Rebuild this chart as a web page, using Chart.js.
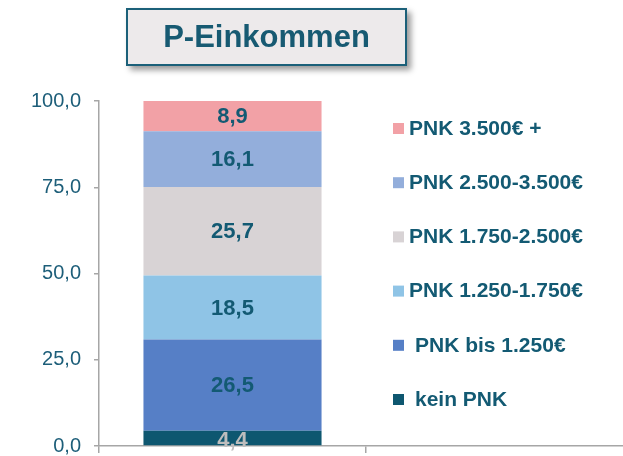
<!DOCTYPE html>
<html lang="de">
<head>
<meta charset="utf-8">
<title>P-Einkommen</title>
<script src="https://cdn.jsdelivr.net/npm/chart.js@4/dist/chart.umd.min.js"></script>
<style>
  html, body { margin: 0; padding: 0; background: #fff; overflow: hidden; }
  .wrap { position: relative; width: 623px; height: 456px; overflow: hidden; }
  #pChart { position: absolute; left: 0; top: 0; }
  .title-box {
    position: absolute; left: 126px; top: 8px; width: 277px; height: 54px;
    background: #EDEAEB; border: 2px solid #1B6079;
    box-shadow: 4px 4px 6px rgba(0, 0, 0, 0.4);
    font: bold 31px "Liberation Sans", Arial, sans-serif; color: #175A72;
    display: flex; align-items: center; justify-content: center;
  }
</style>
</head>
<body>
<div class="wrap">
  <canvas id="pChart" width="633" height="471"></canvas>
  <div class="title-box">P-Einkommen</div>
</div>
<script>
// Data (bottom to top of the stack)
const categories = ['', ''];
const seriesNames = ['kein PNK', 'PNK bis 1.250€', 'PNK 1.250-1.750€', 'PNK 1.750-2.500€', 'PNK 2.500-3.500€', 'PNK 3.500€ +'];
const seriesValues = [4.4, 26.5, 18.5, 25.7, 16.1, 8.9];
const seriesColors = ['#0E5770', '#567FC6', '#8FC4E6', '#D8D3D5', '#93AEDB', '#F2A1A6'];
const labelColors = ['#BDBDBD', '#135A73', '#135A73', '#135A73', '#135A73', '#135A73'];
const yTicks = [0, 25, 50, 75, 100];

const textColor = '#135A73';
const axisColor = '#A6A6A6';
const fmt = v => v.toFixed(1).replace('.', ',');

// values printed in the middle of each segment
const segmentLabels = {
  id: 'segmentLabels',
  afterDatasetsDraw(chart) {
    const ctx = chart.ctx;
    ctx.save();
    ctx.font = 'bold 22px "Liberation Sans", Arial, sans-serif';
    ctx.textAlign = 'center';
    ctx.textBaseline = 'middle';
    chart.data.datasets.forEach((ds, i) => {
      const bar = chart.getDatasetMeta(i).data[0];
      if (!bar) return;
      const p = bar.getProps(['x', 'y', 'base'], true);
      ctx.fillStyle = labelColors[i];
      const dy = i === 0 ? 3 : 1;
      ctx.fillText(fmt(ds.data[0]), p.x, (p.y + p.base) / 2 + dy);
    });
    ctx.restore();
  }
};

// legend on the right, top entry = top of the stack
const sideLegend = {
  id: 'sideLegend',
  afterDraw(chart) {
    const ctx = chart.ctx;
    ctx.save();
    ctx.font = 'bold 21px "Liberation Sans", Arial, sans-serif';
    ctx.textBaseline = 'middle';
    ctx.textAlign = 'left';
    const n = seriesNames.length;
    for (let k = 0; k < n; k++) {
      const i = n - 1 - k;
      const y = 128 + k * 54.2;
      ctx.fillStyle = seriesColors[i];
      ctx.fillRect(393, y - 5, 11, 11);
      ctx.fillStyle = textColor;
      const pad = i <= 1 ? 6 : 0;
      ctx.fillText(seriesNames[i], 409 + pad, y + 1);
    }
    ctx.restore();
  }
};

new Chart(document.getElementById('pChart'), {
  type: 'bar',
  data: {
    labels: categories,
    datasets: seriesNames.map((name, i) => ({
      label: name,
      data: [seriesValues[i], null],
      backgroundColor: seriesColors[i],
      borderWidth: 0,
      barPercentage: 0.667,
      categoryPercentage: 1
    }))
  },
  options: {
    responsive: false,
    animation: false,
    layout: { padding: { top: 101, left: 0, right: 0, bottom: 0 } },
    plugins: { legend: { display: false }, tooltip: { enabled: false } },
    scales: {
      x: {
        stacked: true,
        offset: true,
        grid: { offset: true, drawOnChartArea: false, color: axisColor, lineWidth: 1.5, tickLength: 7 },
        border: { color: axisColor, width: 1.5 },
        ticks: { display: false },
        afterFit(scale) { scale.height = 11; }
      },
      y: {
        stacked: true,
        min: 0,
        max: 100,
        grid: { drawOnChartArea: false, color: axisColor, lineWidth: 1.5, tickLength: 5 },
        border: { color: axisColor, width: 1.5 },
        afterBuildTicks(scale) { scale.ticks = yTicks.map(v => ({ value: v })); },
        ticks: {
          padding: 13,
          color: '#1D5E79',
          font: { size: 20, family: '"Liberation Sans", Arial, sans-serif' },
          callback: v => fmt(v)
        },
        afterFit(scale) { scale.width = 99; }
      }
    }
  },
  plugins: [segmentLabels, sideLegend]
});
</script>
</body>
</html>
